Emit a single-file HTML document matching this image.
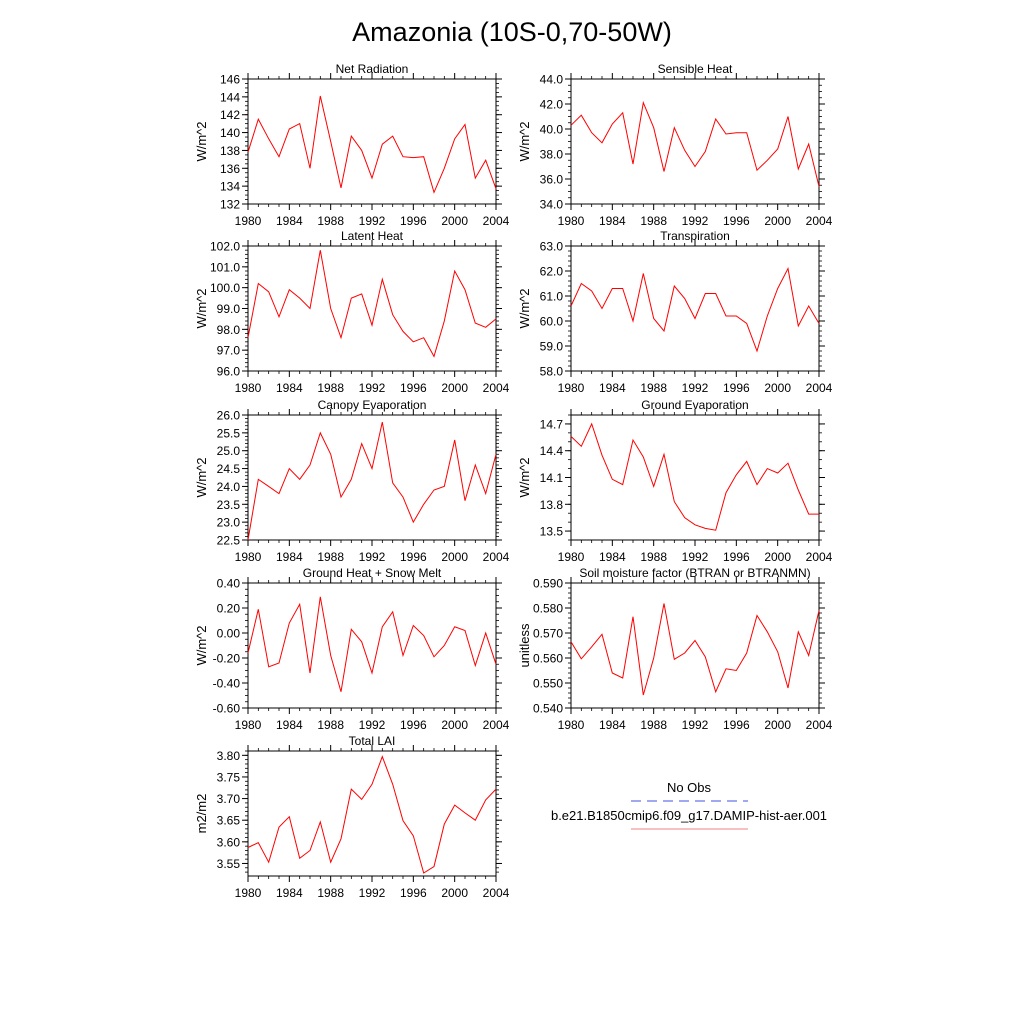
<!DOCTYPE html>
<html><head><meta charset="utf-8"><style>
body{margin:0;background:#fff;}
svg{display:block;font-family:"Liberation Sans",sans-serif;}
</style></head><body>
<svg id="fig" width="1024" height="1024" viewBox="0 0 1024 1024" xmlns="http://www.w3.org/2000/svg">
<rect width="1024" height="1024" fill="#fff"/>
<text x="512" y="41" font-size="27" text-anchor="middle">Amazonia (10S-0,70-50W)</text>
<g>
<text x="689" y="792" font-size="13" text-anchor="middle">No Obs</text>
<line x1="631" y1="801" x2="748" y2="801" stroke="#4050e0" stroke-width="1" stroke-dasharray="10,6"/>
<text x="689" y="820" font-size="13" text-anchor="middle">b.e21.B1850cmip6.f09_g17.DAMIP-hist-aer.001</text>
<line x1="631" y1="829" x2="748" y2="829" stroke="#f08080" stroke-width="1"/>
</g>
</svg>
<script>
const years = [1980,1981,1982,1983,1984,1985,1986,1987,1988,1989,1990,1991,1992,1993,1994,1995,1996,1997,1998,1999,2000,2001,2002,2003,2004];
const xTicks = [1980,1984,1988,1992,1996,2000,2004];
const netRad = [137.8,141.5,139.3,137.3,140.4,141.0,136.0,144.1,139.0,133.8,139.6,138.0,134.9,138.7,139.6,137.3,137.2,137.3,133.3,136.0,139.3,140.9,134.9,136.9,133.7];
const sensible = [40.3,41.1,39.7,38.9,40.4,41.3,37.2,42.1,40.1,36.6,40.1,38.3,37.0,38.2,40.8,39.6,39.7,39.7,36.7,37.5,38.4,41.0,36.8,38.8,35.4];
const latent = [97.6,100.2,99.8,98.6,99.9,99.5,99.0,101.8,99.0,97.6,99.5,99.7,98.2,100.4,98.7,97.9,97.4,97.6,96.7,98.4,100.8,99.9,98.3,98.1,98.5];
const transp = [60.6,61.5,61.2,60.5,61.3,61.3,60.0,61.9,60.1,59.6,61.4,60.9,60.1,61.1,61.1,60.2,60.2,59.9,58.8,60.2,61.3,62.1,59.8,60.6,59.9];
const canopy = [22.5,24.2,24.0,23.8,24.5,24.2,24.6,25.5,24.9,23.7,24.2,25.2,24.5,25.8,24.1,23.7,23.0,23.5,23.9,24.0,25.3,23.6,24.6,23.8,24.9];
const groundEvap = [14.56,14.45,14.70,14.35,14.08,14.02,14.52,14.33,14.00,14.36,13.83,13.65,13.57,13.53,13.51,13.93,14.13,14.28,14.02,14.20,14.15,14.26,13.96,13.69,13.69];
const groundHeat = [-0.16,0.19,-0.27,-0.24,0.08,0.23,-0.32,0.29,-0.18,-0.47,0.03,-0.07,-0.32,0.05,0.17,-0.18,0.06,-0.02,-0.19,-0.10,0.05,0.02,-0.26,0.00,-0.25];
const soil = [0.5665,0.5597,0.5645,0.5695,0.554,0.552,0.5765,0.5452,0.560,0.5818,0.5595,0.562,0.567,0.5605,0.5465,0.5557,0.555,0.562,0.577,0.5705,0.5625,0.548,0.5705,0.561,0.579];
const lai = [3.587,3.598,3.553,3.634,3.658,3.562,3.580,3.646,3.553,3.607,3.722,3.698,3.733,3.797,3.733,3.649,3.614,3.528,3.543,3.641,3.685,3.667,3.650,3.697,3.722];
const yTicksNet = [132,134,136,138,140,142,144,146];
const yTicksSens = [34,36,38,40,42,44];
const yTicksLat = [96,97,98,99,100,101,102];
const yTicksTr = [58,59,60,61,62,63];
const yTicksCan = [22.5,23.0,23.5,24.0,24.5,25.0,25.5,26.0];
const yTicksGE = [13.5,13.8,14.1,14.4,14.7];
const yTicksGH = [-0.6,-0.4,-0.2,0,0.2,0.4];
const yTicksSoil = [0.54,0.55,0.56,0.57,0.58,0.59];
const yTicksLai = [3.55,3.60,3.65,3.70,3.75,3.80];

const NS="http://www.w3.org/2000/svg";
const svg=document.getElementById('fig');
function mk(tag,attrs,parent){const e=document.createElementNS(NS,tag);for(const k in attrs)e.setAttribute(k,attrs[k]);parent.appendChild(e);return e;}
const panels=[
 {name:'net-radiation',title:'Net Radiation',x:248,y:79,vals:netRad,ticks:yTicksNet,min:132,max:146,dec:0,minor:0.5,yl:'W/m^2'},
 {name:'sensible-heat',title:'Sensible Heat',x:571,y:79,vals:sensible,ticks:yTicksSens,min:34,max:44,dec:1,minor:0.5,yl:'W/m^2'},
 {name:'latent-heat',title:'Latent Heat',x:248,y:246,vals:latent,ticks:yTicksLat,min:96,max:102,dec:1,minor:0.2,yl:'W/m^2'},
 {name:'transpiration',title:'Transpiration',x:571,y:246,vals:transp,ticks:yTicksTr,min:58,max:63,dec:1,minor:0.2,yl:'W/m^2'},
 {name:'canopy-evaporation',title:'Canopy Evaporation',x:248,y:415,vals:canopy,ticks:yTicksCan,min:22.5,max:26,dec:1,minor:0.1,yl:'W/m^2'},
 {name:'ground-evaporation',title:'Ground Evaporation',x:571,y:415,vals:groundEvap,ticks:yTicksGE,min:13.4,max:14.8,dec:1,minor:0.1,yl:'W/m^2'},
 {name:'ground-heat',title:'Ground Heat + Snow Melt',x:248,y:583,vals:groundHeat,ticks:yTicksGH,min:-0.6,max:0.4,dec:2,minor:0.05,yl:'W/m^2'},
 {name:'soil-moisture',title:'Soil moisture factor (BTRAN or BTRANMN)',x:571,y:583,vals:soil,ticks:yTicksSoil,min:0.54,max:0.59,dec:3,minor:0.002,yl:'unitless'},
 {name:'total-lai',title:'Total LAI',x:248,y:751,vals:lai,ticks:yTicksLai,min:3.521,max:3.81,dec:2,minor:0.01,yl:'m2/m2'}
];
const W=248,H=125;
panels.forEach(p=>{
 const g=mk('g',{},svg);
 
 
 const xs=v=>p.x+(v-1980)/24*W;
 const ys=v=>p.y+H-(v-p.min)/(p.max-p.min)*H;
 const t=mk('text',{x:p.x+W/2,y:p.y-6,'font-size':12,'text-anchor':'middle'},g);
 
 
 t.textContent=p.title;
 const r=mk('rect',{x:p.x,y:p.y,width:W,height:H,fill:'none',stroke:'#000','stroke-width':1},g);
 
 
 // minor y ticks
 for(let v=Math.ceil(p.min/p.minor-1e-6)*p.minor; v<=p.max+1e-9; v+=p.minor){
  const yy=ys(v);
  mk('line',{x1:p.x,x2:p.x-3,y1:yy,y2:yy,stroke:'#000','stroke-width':0.8},g);
  mk('line',{x1:p.x+W,x2:p.x+W+3,y1:yy,y2:yy,stroke:'#000','stroke-width':0.8},g);
 }
 p.ticks.forEach(v=>{
  const yy=ys(v);
  mk('line',{x1:p.x-6,x2:p.x,y1:yy,y2:yy,stroke:'#000'},g);
  mk('line',{x1:p.x+W,x2:p.x+W+6,y1:yy,y2:yy,stroke:'#000'},g);
  const tl=mk('text',{x:p.x-8,y:yy+4.5,'font-size':12,'text-anchor':'end'},g);
  
  
  tl.textContent=v.toFixed(p.dec);
 });
 for(let yv=1980;yv<=2004;yv++){
  const xx=xs(yv);
  const big=xTicks.includes(yv);
  mk('line',{x1:xx,x2:xx,y1:p.y+H,y2:p.y+H+(big?6:3),stroke:'#000','stroke-width':big?1:0.8},g);
  mk('line',{x1:xx,x2:xx,y1:p.y,y2:p.y-(big?6:3),stroke:'#000','stroke-width':big?1:0.8},g);
 }
 xTicks.forEach(v=>{
  const tl=mk('text',{x:xs(v),y:p.y+H+21,'font-size':12,'text-anchor':'middle'},g);
  
  
  tl.textContent=v;
 });
 const lx=p.x-42, ly=p.y+H/2;
 const yl=mk('text',{x:lx,y:ly,'font-size':13,'text-anchor':'middle',transform:`rotate(-90 ${lx} ${ly})`},g);
 
 
 yl.textContent=p.yl;
 const pts=p.vals.map((v,i)=>xs(years[i]).toFixed(1)+','+ys(v).toFixed(1)).join(' ');
 const pl=mk('polyline',{points:pts,fill:'none',stroke:'#ff0000','stroke-width':1},g);
 
 
});
</script>
</body></html>
